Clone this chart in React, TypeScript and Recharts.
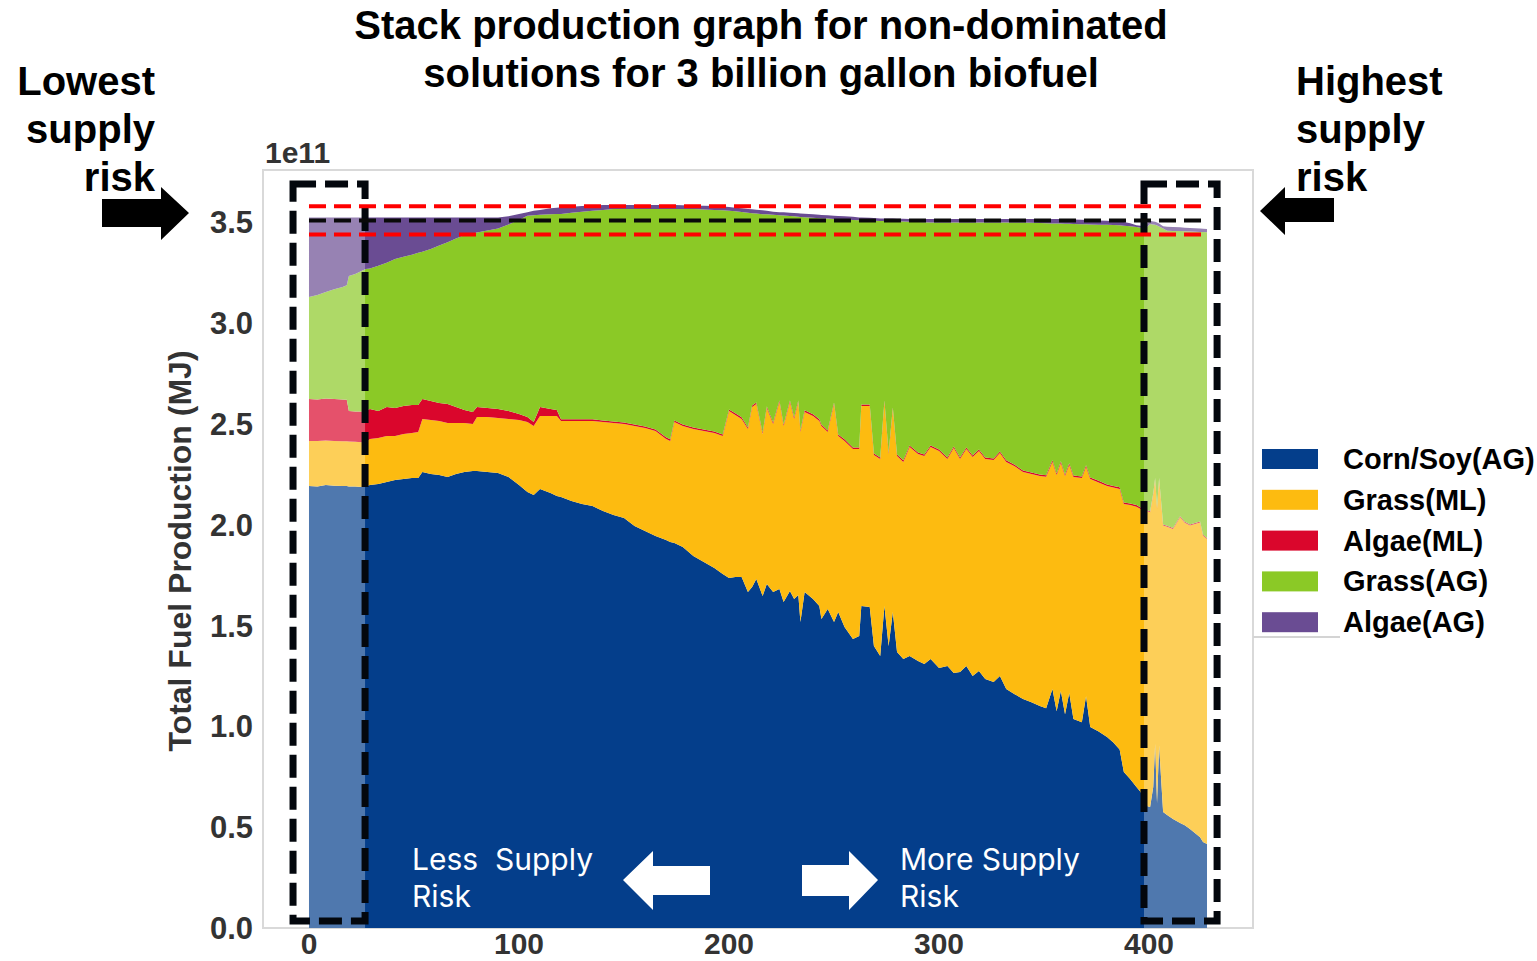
import React from 'react';
import { AreaChart, Area, XAxis, YAxis, ReferenceArea, ReferenceLine } from 'recharts';

// Non-dominated solutions ordered from lowest to highest supply risk
const solutionIndex = [
  0, 4, 8, 12, 16, 18, 19, 22, 25, 27,
  29, 33, 37, 41, 45, 49, 52, 54, 58, 62,
  66, 70, 74, 78, 80, 85, 90, 95, 100, 104,
  107, 110, 115, 118, 120, 125, 130, 135, 140, 145,
  150, 155, 160, 165, 170, 172, 174, 178, 183, 188,
  193, 197, 200, 203, 206, 209, 211, 213, 216, 218,
  221, 224, 226, 229, 231, 233, 234, 236, 240, 243,
  244, 247, 250, 252, 255, 259, 262, 263, 267, 269,
  272, 274, 276, 278, 280, 283, 286, 290, 293, 296,
  300, 304, 307, 310, 313, 316, 319, 322, 326, 329,
  332, 336, 340, 344, 348, 351, 354, 356, 358, 360,
  362, 364, 368, 370, 372, 376, 380, 383, 386, 388,
  391, 394, 396, 397.6, 398.5, 400.5, 402, 402.9, 403.8, 404.8,
  406.7, 408.6, 411.4, 414.8, 417, 419.5, 424.3, 425.7, 427.6,
];

// Fuel production per feedstock, in units of 1e11 MJ
const cornSoyAG = [
  2.192, 2.190, 2.197, 2.194, 2.192, 2.192, 2.190, 2.190, 2.188, 2.190,
  2.197, 2.202, 2.212, 2.222, 2.227, 2.232, 2.232, 2.262, 2.252, 2.247,
  2.237, 2.252, 2.262, 2.267, 2.267, 2.262, 2.257, 2.237, 2.197, 2.163,
  2.148, 2.178, 2.158, 2.143, 2.138, 2.118, 2.103, 2.093, 2.068, 2.049,
  2.034, 1.994, 1.969, 1.944, 1.925, 1.915, 1.910, 1.890, 1.845, 1.815,
  1.786, 1.756, 1.736, 1.741, 1.741, 1.667, 1.691, 1.731, 1.647, 1.706,
  1.667, 1.682, 1.617, 1.672, 1.632, 1.652, 1.518, 1.667, 1.632, 1.597,
  1.533, 1.582, 1.518, 1.567, 1.493, 1.434, 1.448, 1.597, 1.592, 1.399,
  1.349, 1.597, 1.399, 1.567, 1.369, 1.334, 1.349, 1.324, 1.310, 1.334,
  1.290, 1.300, 1.265, 1.270, 1.300, 1.250, 1.275, 1.235, 1.220, 1.250,
  1.186, 1.160, 1.136, 1.120, 1.101, 1.090, 1.186, 1.075, 1.176, 1.060,
  1.166, 1.037, 1.020, 1.150, 0.997, 0.975, 0.947, 0.920, 0.885, 0.774,
  0.739, 0.700, 0.675, 0.625, 0.607, 0.600, 0.700, 0.913, 0.620, 0.905,
  0.575, 0.560, 0.541, 0.521, 0.510, 0.491, 0.450, 0.427, 0.417,
];

const grassML = [
  0.224, 0.226, 0.221, 0.222, 0.222, 0.222, 0.223, 0.222, 0.222, 0.220,
  0.229, 0.229, 0.228, 0.218, 0.223, 0.223, 0.228, 0.263, 0.268, 0.268,
  0.268, 0.253, 0.243, 0.233, 0.268, 0.273, 0.273, 0.288, 0.323, 0.347,
  0.342, 0.362, 0.382, 0.397, 0.377, 0.397, 0.412, 0.422, 0.442, 0.456,
  0.466, 0.496, 0.511, 0.521, 0.501, 0.501, 0.600, 0.600, 0.630, 0.650,
  0.669, 0.684, 0.828, 0.804, 0.784, 0.808, 0.893, 0.868, 0.803, 0.873,
  0.833, 0.927, 0.873, 0.937, 0.893, 0.957, 0.942, 0.893, 0.908, 0.918,
  0.957, 0.878, 1.081, 0.873, 0.923, 0.942, 0.928, 0.992, 0.997, 0.947,
  0.977, 1.012, 0.952, 1.007, 0.972, 0.978, 1.037, 1.027, 1.031, 1.052,
  1.076, 1.026, 1.116, 1.056, 1.076, 1.086, 1.091, 1.091, 1.101, 1.106,
  1.126, 1.130, 1.126, 1.132, 1.141, 1.148, 1.126, 1.172, 1.131, 1.182,
  1.131, 1.200, 1.212, 1.137, 1.230, 1.235, 1.245, 1.265, 1.293, 1.329,
  1.359, 1.390, 1.403, 1.463, 1.463, 1.462, 1.450, 1.314, 1.460, 1.322,
  1.421, 1.430, 1.438, 1.516, 1.500, 1.505, 1.562, 1.519, 1.513,
];

const algaeML = [
  0.208, 0.206, 0.208, 0.208, 0.208, 0.206, 0.151, 0.150, 0.152, 0.154,
  0.148, 0.133, 0.144, 0.139, 0.139, 0.139, 0.134, 0.099, 0.094, 0.089,
  0.094, 0.079, 0.064, 0.060, 0.049, 0.044, 0.044, 0.039, 0.030, 0.025,
  0.020, 0.044, 0.034, 0.029, 0.008, 0.008, 0.008, 0.008, 0.008, 0.008,
  0.008, 0.008, 0.008, 0.008, 0.008, 0.008, 0.008, 0.008, 0.008, 0.008,
  0.008, 0.008, 0.008, 0.008, 0.008, 0.008, 0.008, 0.008, 0.008, 0.008,
  0.008, 0.008, 0.008, 0.008, 0.008, 0.008, 0.008, 0.008, 0.008, 0.008,
  0.008, 0.008, 0.008, 0.008, 0.008, 0.008, 0.008, 0.008, 0.008, 0.008,
  0.008, 0.008, 0.008, 0.008, 0.008, 0.008, 0.008, 0.008, 0.008, 0.008,
  0.008, 0.008, 0.008, 0.008, 0.008, 0.008, 0.008, 0.008, 0.008, 0.008,
  0.008, 0.008, 0.008, 0.008, 0.008, 0.008, 0.008, 0.008, 0.008, 0.008,
  0.008, 0.008, 0.008, 0.008, 0.008, 0.008, 0.008, 0.008, 0.008, 0.008,
  0.008, 0.008, 0.008, 0.008, 0.005, 0.005, 0.005, 0.005, 0.005, 0.005,
  0.005, 0.005, 0.005, 0.005, 0.005, 0.005, 0.005, 0.005, 0.005,
];

const grassAG = [
  0.506, 0.518, 0.529, 0.544, 0.558, 0.568, 0.670, 0.682, 0.697, 0.705,
  0.698, 0.721, 0.716, 0.739, 0.741, 0.746, 0.756, 0.731, 0.754, 0.781,
  0.802, 0.836, 0.867, 0.885, 0.866, 0.881, 0.896, 0.926, 0.962, 0.998,
  1.026, 0.954, 0.966, 0.973, 1.019, 1.025, 1.030, 1.035, 1.044, 1.053,
  1.058, 1.068, 1.078, 1.093, 1.132, 1.142, 1.048, 1.068, 1.083, 1.091,
  1.099, 1.112, 0.986, 1.002, 1.019, 1.065, 0.954, 0.937, 1.083, 0.953,
  1.030, 0.919, 1.036, 0.915, 0.997, 0.911, 1.059, 0.958, 0.975, 0.998,
  1.022, 1.051, 0.910, 1.068, 1.090, 1.128, 1.127, 0.914, 0.912, 1.154,
  1.173, 0.890, 1.147, 0.924, 1.156, 1.184, 1.109, 1.143, 1.152, 1.106,
  1.126, 1.166, 1.111, 1.166, 1.116, 1.156, 1.126, 1.166, 1.171, 1.136,
  1.180, 1.202, 1.229, 1.238, 1.247, 1.250, 1.175, 1.239, 1.179, 1.243,
  1.188, 1.247, 1.251, 1.196, 1.255, 1.271, 1.288, 1.294, 1.300, 1.373,
  1.375, 1.379, 1.388, 1.371, 1.397, 1.425, 1.335, 1.256, 1.400, 1.248,
  1.469, 1.464, 1.474, 1.415, 1.441, 1.454, 1.436, 1.501, 1.516,
];

const algaeAG = [
  0.395, 0.385, 0.370, 0.357, 0.345, 0.337, 0.291, 0.281, 0.266, 0.256,
  0.253, 0.240, 0.225, 0.207, 0.195, 0.185, 0.175, 0.170, 0.157, 0.140,
  0.124, 0.105, 0.089, 0.080, 0.075, 0.065, 0.055, 0.040, 0.030, 0.017,
  0.022, 0.024, 0.030, 0.031, 0.033, 0.030, 0.028, 0.025, 0.024, 0.020,
  0.020, 0.020, 0.020, 0.020, 0.020, 0.020, 0.020, 0.019, 0.017, 0.019,
  0.020, 0.019, 0.018, 0.018, 0.018, 0.019, 0.019, 0.019, 0.019, 0.018,
  0.015, 0.015, 0.016, 0.016, 0.017, 0.017, 0.017, 0.017, 0.017, 0.017,
  0.017, 0.016, 0.016, 0.016, 0.016, 0.016, 0.014, 0.014, 0.014, 0.014,
  0.013, 0.013, 0.013, 0.013, 0.013, 0.014, 0.014, 0.015, 0.016, 0.017,
  0.017, 0.017, 0.017, 0.017, 0.017, 0.017, 0.017, 0.017, 0.017, 0.017,
  0.017, 0.017, 0.018, 0.019, 0.020, 0.021, 0.022, 0.023, 0.023, 0.022,
  0.022, 0.022, 0.022, 0.021, 0.021, 0.021, 0.020, 0.019, 0.018, 0.018,
  0.015, 0.009, 0.009, 0.013, 0.018, 0.016, 0.015, 0.015, 0.015, 0.014,
  0.011, 0.019, 0.019, 0.019, 0.018, 0.017, 0.017, 0.016, 0.016,
];

const xTicks = [0, 100, 200, 300, 400];
const yTicks = [0, 0.5, 1, 1.5, 2, 2.5, 3, 3.5];

// Target production band (1e11 MJ): nominal demand and +/- 2 %
const targetLevel = 3.51;
const upperLevel = 3.58;
const lowerLevel = 3.44;

// Extreme groups of solutions that are boxed
const lowestRiskRange = [-7.6, 26.7];
const highestRiskRange = [397.6, 432.4];
const shadedLow = [0, 26.7];
const shadedHigh = [397.6, 427.6];

const series = [
  { key: 'corn', name: 'Corn/Soy(AG)', color: '#043e8b', values: cornSoyAG },
  { key: 'grassML', name: 'Grass(ML)', color: '#fdbb10', values: grassML },
  { key: 'algaeML', name: 'Algae(ML)', color: '#da062c', values: algaeML },
  { key: 'grassAG', name: 'Grass(AG)', color: '#8bc926', values: grassAG },
  { key: 'algaeAG', name: 'Algae(AG)', color: '#6a4c93', values: algaeAG },
];

const data = solutionIndex.map((x, i) => {
  const row: Record<string, number> = { x };
  series.forEach((s) => {
    row[s.key] = s.values[i];
  });
  return row;
});

const W = 1537;
const H = 961;
const font = "'Liberation Sans', Arial, sans-serif";
const axisGray = '#333333';

export default function App() {
  const yTickStyle = { fontSize: 31, fontWeight: 700, fill: axisGray, fontFamily: font };
  const xTickStyle = { fontSize: 30, fontWeight: 700, fill: axisGray, fontFamily: font };
  const xMin = solutionIndex[0];
  const xMax = solutionIndex[solutionIndex.length - 1];

  return (
    <div style={{ position: 'absolute', left: 0, top: 0, width: W, height: H, background: '#fff' }}>
      <AreaChart
        width={W}
        height={H}
        data={data}
        margin={{ top: 170, right: 284, bottom: 3, left: 203 }}
      >
        <XAxis
          dataKey="x"
          type="number"
          domain={[-21.9, 449.5]}
          ticks={xTicks}
          allowDataOverflow
          axisLine={false}
          tickLine={false}
          tickSize={0}
          tickMargin={5}
          height={30}
          tick={xTickStyle}
        />
        <YAxis
          type="number"
          domain={[0, 3.76]}
          ticks={yTicks}
          allowDataOverflow
          axisLine={false}
          tickLine={false}
          tickSize={0}
          tickMargin={10}
          width={60}
          tick={yTickStyle}
          tickFormatter={(v: number) => v.toFixed(1)}
        />
        <ReferenceArea
          x1={-21.9}
          x2={449.5}
          y1={0}
          y2={3.76}
          fill="none"
          stroke="#d9d9d9"
          strokeWidth={2}
          ifOverflow="visible"
        />
        {series.map((s) => (
          <Area
            key={s.key}
            dataKey={s.key}
            name={s.name}
            stackId="fuel"
            type="linear"
            fill={s.color}
            fillOpacity={1}
            stroke="none"
            isAnimationActive={false}
            dot={false}
            activeDot={false}
          />
        ))}
        <ReferenceLine
          segment={[{ x: xMin, y: upperLevel }, { x: xMax, y: upperLevel }]}
          stroke="#ff0000"
          strokeWidth={4}
          strokeDasharray="17 8"
        />
        <ReferenceLine
          segment={[{ x: xMin, y: lowerLevel }, { x: xMax, y: lowerLevel }]}
          stroke="#ff0000"
          strokeWidth={4}
          strokeDasharray="17 8"
        />
        <ReferenceLine
          segment={[{ x: xMin, y: targetLevel }, { x: xMax, y: targetLevel }]}
          stroke="#0a0a0a"
          strokeWidth={4}
          strokeDasharray="17 8"
        />
        <ReferenceArea x1={shadedLow[0]} x2={shadedLow[1]} y1={0} y2={3.69} fill="#ffffff" fillOpacity={0.3} stroke="none" />
        <ReferenceArea x1={shadedHigh[0]} x2={shadedHigh[1]} y1={0} y2={3.69} fill="#ffffff" fillOpacity={0.3} stroke="none" />
        <ReferenceArea
          x1={lowestRiskRange[0]}
          x2={lowestRiskRange[1]}
          y1={0.035}
          y2={3.69}
          fill="none"
          stroke="#03070d"
          strokeWidth={7}
          strokeDasharray="23 9"
        />
        <ReferenceArea
          x1={highestRiskRange[0]}
          x2={highestRiskRange[1]}
          y1={0.035}
          y2={3.69}
          fill="none"
          stroke="#03070d"
          strokeWidth={7}
          strokeDasharray="23 9"
        />
      </AreaChart>

      <svg
        width={W}
        height={H}
        style={{ position: 'absolute', left: 0, top: 0, pointerEvents: 'none' }}
        fontFamily={font}
      >
        {/* Title */}
        <text x={761} y={39} textAnchor="middle" fontSize={40} fontWeight={700} fill="#000">
          Stack production graph for non-dominated
        </text>
        <text x={761} y={87} textAnchor="middle" fontSize={40} fontWeight={700} fill="#000">
          solutions for 3 billion gallon biofuel
        </text>

        {/* Left annotation */}
        <g fontSize={40} fontWeight={700} fill="#000" textAnchor="end">
          <text x={155} y={95}>Lowest</text>
          <text x={155} y={143}>supply</text>
          <text x={155} y={191}>risk</text>
        </g>
        <polygon points="102,199 161,199 161,187 189,213 161,240 161,227 102,227" fill="#000" />

        {/* Right annotation */}
        <g fontSize={40} fontWeight={700} fill="#000" textAnchor="start">
          <text x={1296} y={95}>Highest</text>
          <text x={1296} y={143}>supply</text>
          <text x={1296} y={191}>risk</text>
        </g>
        <polygon points="1260,211 1285,187 1285,198 1334,198 1334,222 1285,222 1285,235" fill="#000" />

        {/* Axis scale and title */}
        <text x={265} y={163} fontSize={30} fontWeight={700} fill={axisGray}>1e11</text>
        <text
          transform="translate(191 551) rotate(-90)"
          textAnchor="middle"
          fontSize={32}
          fontWeight={700}
          fill={axisGray}
        >
          Total Fuel Production (MJ)
        </text>

        {/* Direction hints inside the plot */}
        <g fontFamily="Inter, 'Open Sans', sans-serif" fontSize={30} fill="#fff">
          <text x={412} y={870} xmlSpace="preserve">Less  Supply</text>
          <text x={412} y={907}>Risk</text>
          <text x={900} y={870}>More Supply</text>
          <text x={900} y={907}>Risk</text>
        </g>
        <polygon points="623,880 653,851 653,866 710,866 710,895 653,895 653,910" fill="#fff" />
        <polygon points="802,865 849,865 849,851 878,880 849,910 849,896 802,896" fill="#fff" />

        {/* Legend */}
        <line x1={1253} y1={637} x2={1340} y2={637} stroke="#d4d4d4" strokeWidth={2} />
        {series.map((s, i) => {
          const cy = 459 + i * 40.8;
          return (
            <g key={s.key}>
              <rect x={1262} y={cy - 10} width={56} height={20} fill={s.color} />
              <text x={1343} y={cy + 10} fontSize={29} fontWeight={700} fill="#000">
                {s.name}
              </text>
            </g>
          );
        })}
      </svg>
    </div>
  );
}
